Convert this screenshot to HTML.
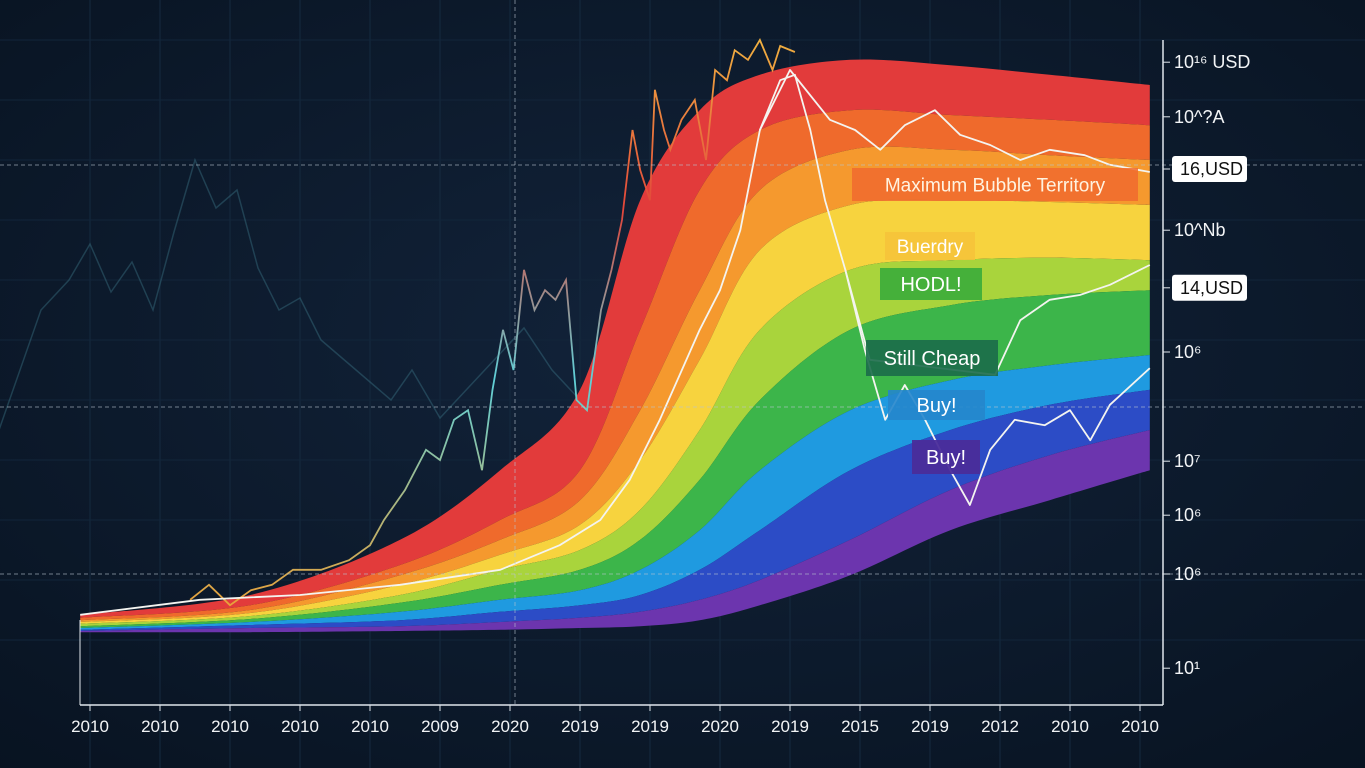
<!DOCTYPE html>
<html><head><meta charset="utf-8"><style>
body{margin:0;width:1365px;height:768px;overflow:hidden;background:#0c1a2b;font-family:"Liberation Sans",sans-serif}
svg{display:block}
</style></head><body>
<svg id="chart" width="1365" height="768" viewBox="0 0 1365 768" xmlns="http://www.w3.org/2000/svg">
<defs>
<radialGradient id="bg" cx="50%" cy="45%" r="75%"><stop offset="0" stop-color="#12233a"/><stop offset="1" stop-color="#081321"/></radialGradient>
<linearGradient id="cl" x1="0" y1="1" x2="0" y2="0"><stop offset="0" stop-color="#e8a23a"/><stop offset="0.4" stop-color="#5fd0d8"/><stop offset="0.7" stop-color="#e2453a"/><stop offset="1" stop-color="#f0b040"/></linearGradient>
</defs>
<rect width="1365" height="768" fill="url(#bg)"/>
<g id="grid"></g>
<g id="bands"></g>
<g id="lines"></g>
<g id="axes"></g>
<g id="labels"></g>
</svg>
<script>
const xTicks=["2010","2010","2010","2010","2010","2009","2020","2019","2019","2020","2019","2015","2019","2012","2010","2010"];
const bandX=[-0.14,2.29,4.43,5.86,7,7.86,8.71,9.57,10.86,12.29,13.71,15.14];
const b0=[4.2,7.5,16.7,28.3,41.7,73.3,88.3,94.2,96.7,95.8,94.2,92.5];
const b1=[3.7,5.8,12.5,20,28.3,51.7,75,85,88.3,87.5,86.7,85.8];
const b2=[3.3,5,10.8,16.7,23.3,38.3,58.3,75,81.7,81.7,80.8,80];
const b3=[3,4.5,9.2,14.2,19.2,30,46.7,65,72.5,73.3,73,72.5];
const b4=[2.7,4,7.5,11.7,15,21.7,35,51.7,61.7,63.3,63.7,63.3];
const b5=[2.3,3.5,6.2,9.2,11.7,16.7,26.7,40,51.7,55.8,57.5,58.3];
const b6=[2,3,4.7,6.7,8.3,11.7,18.3,28.3,38.3,43.3,45.8,47.5];
const b7=[1.7,2.5,3.3,4.7,5.8,7.5,11.7,18.3,28.3,35,39.2,41.7];
const b8=[1.5,2,2.3,3,3.7,4.7,6.7,10,16.7,25,30.8,35];
const b9=[1.3,1.3,1.5,1.7,2,2.3,3.3,5.8,10.8,18.3,23.3,28.3];
const bandColors=["#e23b3b","#ef6a2c","#f5992e","#f7d33e","#a9d43c","#3cb54a","#1f9ae0","#2c4cc6","#6c35ae"];
const bandNames=["band-max-bubble","band-sell","band-fomo","band-balloon","band-hodl","band-still-cheap","band-accumulate","band-buy","band-fire-sale"];
const priceAX=[-0.14,1.57,3,4.43,5.86,6.71,7.29,7.71,8.14,8.71,9,9.29,9.57,9.86,10.07,10.29,10.5,10.79,11.07,11.36,11.64,11.93,12.29,12.57,12.86,13.21,13.64,14,14.29,14.57,15.14];
const priceAV=[4.2,6.7,7.5,9.2,11.7,15.8,20,26.7,36.7,51.7,58.3,68.3,85,93.3,94.2,85,73.3,61.7,48.3,36.7,42.5,36.7,28.3,22.5,31.7,36.7,35.8,38.3,33.3,39.2,45.3];
const priceBX=[9.57,10,10.57,10.93,11.29,11.64,12.07,12.43,12.86,13.29,13.71,14.21,14.57,15.14];
const priceBV=[85,95,86.7,85,81.7,85.8,88.3,84.2,82.5,80,81.7,80.8,79.2,78];
const priceCX=[10.79,11.14,12.93,13.29,13.71,14.14,14.57,15.14];
const priceCV=[61.7,46.7,44.2,53.3,56.7,57.5,59.2,62.5];
const candX=[1.43,1.7,2,2.3,2.6,2.9,3.3,3.7,4,4.2,4.5,4.8,5,5.2,5.4,5.6,5.75,5.9,6.05,6.2,6.35,6.5,6.65,6.8,6.95,7.1,7.3,7.45,7.6,7.75,7.86,8,8.07,8.2,8.29,8.45,8.64,8.8,8.93,9.1,9.21,9.4,9.57,9.75,9.86,10.07];
const candV=[6.7,9.2,5.8,8.3,9.2,11.7,11.7,13.3,15.8,20,25,31.7,30,36.7,38.3,28.3,41.7,51.7,45,61.7,55,58.3,56.7,60,40,38.3,55,61.7,70,85,78.3,73.3,91.7,85,81.7,86.7,90,80,95,93.3,98.3,96.7,100,95,99,98];
const rightLabels=["10¹⁶ USD","10^?A","16,USD","10^Nb","14,USD","10⁶","10⁷","10⁶","10⁶","10¹"];
const rightVals=[96.3,87.2,78.5,68.3,58.7,48,29.8,20.8,11,-4.7];
const rightBoxed=[false,false,true,false,true,false,false,false,false,false];
const NS="http://www.w3.org/2000/svg";
const xS=i=>90+i*70;
const yS=v=>640-v*6;
function mk(t,a,p){const e=document.createElementNS(NS,t);for(const k in a)e.setAttribute(k,a[k]);p.appendChild(e);return e;}
function smooth(pts){let d="M"+pts[0][0]+","+pts[0][1];for(let i=0;i<pts.length-1;i++){const p0=pts[i-1]||pts[i],p1=pts[i],p2=pts[i+1],p3=pts[i+2]||p2;const c1=[p1[0]+(p2[0]-p0[0])/6,p1[1]+(p2[1]-p0[1])/6],c2=[p2[0]-(p3[0]-p1[0])/6,p2[1]-(p3[1]-p1[1])/6];d+=" C"+c1+" "+c2+" "+p2;}return d;}
const grid=document.getElementById('grid');
for(let i=0;i<16;i++){const l=mk('line',{x1:xS(i),x2:xS(i),y1:0,y2:768,stroke:'#152a3f','stroke-width':1},grid);

}
for(let v=0;v<=110;v+=10){const l=mk('line',{x1:0,x2:1365,y1:yS(v),y2:yS(v),stroke:'#12253a','stroke-width':1},grid);

}
const bgX=[-1.3,-1,-0.7,-0.3,0,0.3,0.6,0.9,1.2,1.5,1.8,2.1,2.4,2.7,3,3.3,3.6,4,4.3,4.6,5,5.4,5.8,6.2,6.6,7];
const bgV=[35,45,55,60,66,58,63,55,68,80,72,75,62,55,57,50,47,43,40,45,37,42,47,52,45,40];
const bgp=mk('polyline',{points:bgX.map((x,i)=>xS(x)+','+yS(bgV[i])).join(' '),fill:'none',stroke:'#3f7a8c','stroke-width':1.5,opacity:0.4},grid);


const bands=document.getElementById('bands');
const B=[b0,b1,b2,b3,b4,b5,b6,b7,b8,b9];
for(let k=0;k<9;k++){const top=bandX.map((x,i)=>[xS(x),yS(B[k][i])]);const bot=bandX.map((x,i)=>[xS(x),yS(B[k+1][i])]).reverse();
const sb=smooth(bot);
let d=smooth(top)+" L"+bot[0]+sb.slice(sb.indexOf(' '))+" Z";
const p=mk('path',{d:d,fill:bandColors[k]},bands);

}
const lines=document.getElementById('lines');
const cp=mk('polyline',{points:candX.map((x,i)=>xS(x)+','+yS(candV[i])).join(' '),fill:'none',stroke:'url(#cl)','stroke-width':1.8},lines);


[[priceAX,priceAV,'price-line-main'],[priceBX,priceBV,'price-line-upper'],[priceCX,priceCV,'price-line-recovery']].forEach(s=>{
const p=mk('polyline',{points:s[0].map((x,i)=>xS(x)+','+yS(s[1][i])).join(' '),fill:'none',stroke:'#f4f4f0','stroke-width':1.8,'stroke-linejoin':'round'},lines);

});
const axes=document.getElementById('axes');
[[0,1365,165,165],[0,1365,407,407],[0,1365,574,574],[515,515,0,705]].forEach(c=>{const l=mk('line',{x1:c[0],x2:c[1],y1:c[2],y2:c[3],stroke:'#b8c4d0','stroke-width':1,'stroke-dasharray':'4 3',opacity:0.6},axes);

});
const xa=mk('line',{x1:80,x2:1163,y1:705,y2:705,stroke:'#e0e6ec','stroke-width':1.5},axes);


const ya=mk('line',{x1:1163,x2:1163,y1:40,y2:705,stroke:'#e0e6ec','stroke-width':1.5},axes);


const ya2=mk('line',{x1:80,x2:80,y1:620,y2:705,stroke:'#e0e6ec','stroke-width':1},axes);


xTicks.forEach((t,i)=>{const tx=mk('text',{x:xS(i),y:732,fill:'#f2f4f6','font-size':17,'text-anchor':'middle'},axes);tx.textContent=t;


const tk=mk('line',{x1:xS(i),x2:xS(i),y1:705,y2:711,stroke:'#e0e6ec'},axes);

});
rightLabels.forEach((t,i)=>{const y=yS(rightVals[i]);
const tk=mk('line',{x1:1163,x2:1170,y1:y,y2:y,stroke:'#e0e6ec'},axes);


if(rightBoxed[i]){const r=mk('rect',{x:1172,y:y-13,width:75,height:26,rx:3,fill:'#ffffff'},axes);

}
const tx=mk('text',{x:rightBoxed[i]?1180:1174,y:y+6,fill:rightBoxed[i]?'#111':'#f2f4f6','font-size':18},axes);tx.textContent=t;

});
const labels=document.getElementById('labels');
const boxes=[["Maximum Bubble Territory",852,168,286,33,"#f06a2e",0.85,"#fff3e0",19],["Buerdry",885,232,90,28,"#f5c33a",0.9,"#fff",19],["HODL!",880,268,102,32,"#3fae3a",0.95,"#fff",20],["Still Cheap",866,340,132,36,"#1b6b4a",0.9,"#fff",20],["Buy!",888,390,97,30,"#2586cc",0.9,"#fff",20],["Buy!",912,440,68,34,"#4a2c9a",0.95,"#fff",20]];
boxes.forEach(b=>{const r=mk('rect',{x:b[1],y:b[2],width:b[3],height:b[4],fill:b[5],opacity:b[6]},labels);


const t=mk('text',{x:b[1]+b[3]/2,y:b[2]+b[4]/2+7,fill:b[7],'font-size':b[8],'text-anchor':'middle'},labels);t.textContent=b[0];

});
</script>
</body></html>
